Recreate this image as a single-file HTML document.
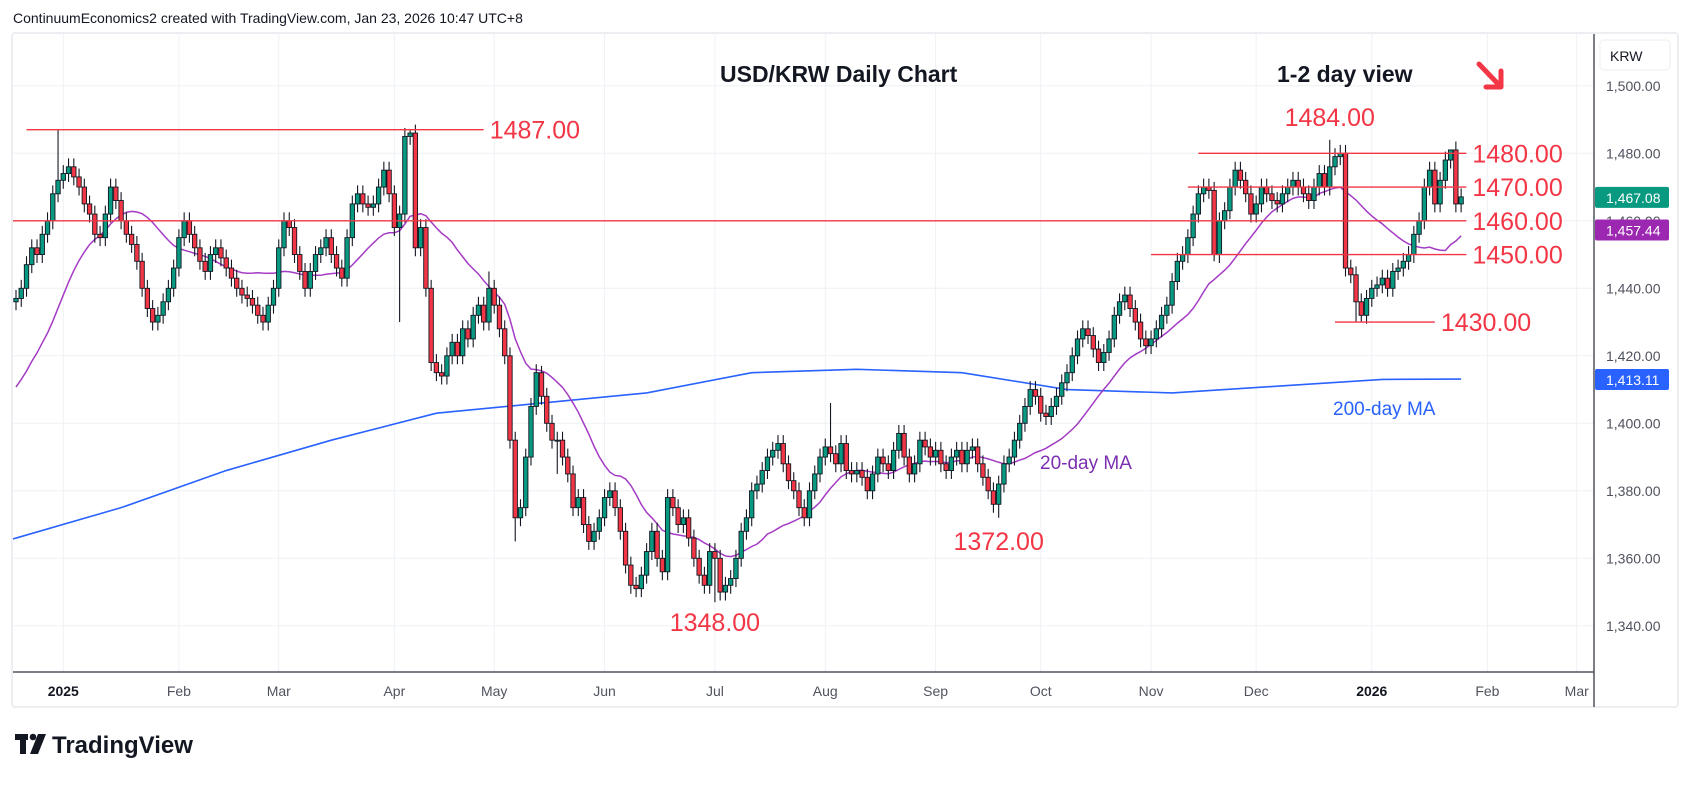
<!DOCTYPE html>
<html><head><meta charset="utf-8">
<style>
html,body{margin:0;padding:0;background:#fff;}
body{width:1689px;height:782px;overflow:hidden;font-family:"Liberation Sans",sans-serif;}
svg text{font-family:"Liberation Sans","DejaVu Sans",sans-serif;}
</style></head>
<body>
<svg id="chart" width="1689" height="782" viewBox="0 0 1689 782" xmlns="http://www.w3.org/2000/svg">
  <rect x="0" y="0" width="1689" height="782" fill="#ffffff"/>
  <text x="13" y="23" font-size="14" fill="#131722">ContinuumEconomics2 created with TradingView.com, Jan 23, 2026 10:47 UTC+8</text>
  <rect x="12" y="33" width="1666" height="674" fill="none" stroke="#eceef2" stroke-width="2" rx="3"/>
  <g id="grid"></g>
  <g id="ma200"></g>
  <g id="ma20"></g>
  <g id="candles"></g>
  <g id="levels"></g>
  <line x1="1594" y1="34" x2="1594" y2="707" stroke="#50535e" stroke-width="1.5"/>
  <line x1="13" y1="672" x2="1594" y2="672" stroke="#50535e" stroke-width="1.5"/>
  <g id="yaxis"></g>
  <g id="xaxis"></g>
  <rect x="1600" y="40" width="70" height="30" rx="4" fill="#fff" stroke="#eceef2"/>
  <text x="1610" y="61" font-size="14" fill="#131722">KRW</text>
  <text x="720" y="82" font-size="23" font-weight="bold" fill="#131722">USD/KRW Daily Chart</text>
  <text x="1277" y="82" font-size="23" font-weight="bold" fill="#131722">1-2 day view</text>
  <g stroke="#f23645" stroke-width="5" fill="none" stroke-linecap="round" stroke-linejoin="round">
    <line x1="1479" y1="64" x2="1500" y2="86"/>
    <polyline points="1486,87 1501,87 1501,71"/>
  </g>
  <text x="1333" y="415" font-size="19" fill="#2962ff">200-day MA</text>
  <text x="1040" y="469" font-size="19" fill="#7b2fb0">20-day MA</text>
  <g>
    <rect x="15" y="734" width="13" height="6" fill="#131722"/>
    <rect x="20" y="734" width="6" height="20" fill="#131722"/>
    <circle cx="33" cy="737" r="3.3" fill="#131722"/>
    <polygon points="38,734 46,734 38,754 30,754" fill="#131722"/>
    <text x="52" y="753" font-size="24" font-weight="bold" fill="#131722">TradingView</text>
  </g>
</svg>
<script>
// ---------- data ----------
const priorCloses = [1395,1398,1394,1400,1396,1402,1398,1394,1397,1400,1404,1410,1415,1418,1425,1432,1430,1434,1436];
const closes = [
1437,1440,1447,1452,1450,1456,1460,1468,1472,1474,
1476,1473,1470,1465,1462,1456,1455,1462,1470,1466,
1460,1456,1453,1448,1440,1434,1430,1432,1436,1440,
1446,1455,1460,1456,1452,1448,1445,1450,1452,1449,
1446,1443,1440,1438,1437,1435,1432,1430,1435,1440,
1452,1460,1458,1450,1445,1440,1445,1450,1452,1455,
1450,1446,1443,1455,1465,1468,1465,1464,1465,1470,
1475,1468,1458,1462,1485,1486,1452,1458,1440,1418,
1415,1414,1420,1424,1420,1428,1425,1432,1435,1430,
1440,1435,1428,1420,1395,1372,1375,1390,1405,1415,
1408,1400,1395,1395,1390,1385,1375,1378,1370,1365,
1368,1372,1378,1380,1375,1368,1358,1352,1351,1355,
1362,1368,1360,1356,1378,1375,1370,1372,1366,1360,
1355,1352,1362,1360,1350,1352,1354,1360,1368,1372,
1380,1382,1386,1390,1392,1394,1388,1383,1380,1375,
1372,1380,1385,1390,1393,1391,1388,1394,1386,1385,
1386,1384,1380,1385,1390,1388,1386,1392,1397,1390,
1385,1388,1395,1393,1390,1392,1388,1386,1390,1392,
1388,1392,1393,1388,1384,1380,1376,1382,1388,1390,
1395,1400,1405,1410,1408,1403,1402,1405,1408,1412,
1415,1420,1425,1428,1426,1422,1418,1421,1425,1432,
1436,1438,1434,1430,1425,1423,1425,1428,1432,1435,
1442,1448,1450,1455,1462,1468,1470,1469,1450,1460,
1463,1470,1475,1472,1468,1462,1465,1470,1468,1466,
1465,1468,1470,1472,1470,1468,1466,1470,1474,1470,
1476,1479,1480,1446,1444,1436,1432,1437,1440,1441,
1443,1440,1445,1446,1448,1450,1456,1460,1470,1475,
1465,1472,1478,1481,1465,1467.08];
const highIdx = [8,75,155,250,273,90,100];
const highVal = [1487,1487,1406,1484,1481,1445,1417];
const lowIdx = [73,95,133,187,228,255,256,103];
const lowVal = [1430,1365,1347,1372,1448,1430,1430,1385];
const ma200Idx = [0,20,40,60,80,100,120,140,160,180,200,220,240,260,275];
const ma200Val = [1366,1375,1386,1395,1403,1406,1409,1415,1416,1415,1410,1409,1411,1413,1413.11];
const yTicks = [1340,1360,1380,1400,1420,1440,1460,1480,1500];
const monthLabels = ["2025","Feb","Mar","Apr","May","Jun","Jul","Aug","Sep","Oct","Nov","Dec","2026","Feb","Mar"];
const monthBar = [9,31,50,72,91,112,133,154,175,195,216,236,258,280,297];
const levelPrices = [1487,1480,1470,1460,1450,1430];
const levelLabels = ["1487.00","1480.00","1470.00","1460.00","1450.00","1430.00"];
const levelStartBar = [2,225,223,-1,216,251];
const levelEndBar = [89,276,276,276,276,270];
const noteLabels = ["1484.00","1348.00","1372.00"];
const notePrices = [1484,1348,1372];
const noteBars = [250,133,187];

// ---------- scales ----------
function xS(i){ return 16 + i*5.255; }
function yS(p){ return 153.3 + (1480 - p)*3.375; }
const NS="http://www.w3.org/2000/svg";
function mk(tag, attrs, parent){ const e=document.createElementNS(NS,tag); for(const k in attrs) e.setAttribute(k,attrs[k]); parent.appendChild(e); return e; }

// grid
const grid=document.getElementById('grid');
yTicks.forEach(p=>{
  const l=mk('line',{x1:13,x2:1594,y1:yS(p),y2:yS(p),stroke:'#eef1f5','stroke-width':1},grid);
  
  
});
monthBar.forEach(b=>{
  const l=mk('line',{x1:xS(b),x2:xS(b),y1:34,y2:672,stroke:'#eef1f5','stroke-width':1},grid);
  
  
});

// y axis
const ya=document.getElementById('yaxis');
yTicks.forEach(p=>{
  if(p===1460) return;
  const t=mk('text',{x:1606,y:yS(p)+5,'font-size':14,fill:'#50535e'},ya);
  t.textContent=p.toLocaleString('en-US',{minimumFractionDigits:2});
  
  
});
// x axis
const xa=document.getElementById('xaxis');
monthLabels.forEach((m,k)=>{
  const t=mk('text',{x:xS(monthBar[k]),y:696,'font-size':14,'text-anchor':'middle',fill:(m==='2025'||m==='2026')?'#131722':'#50535e','font-weight':(m==='2025'||m==='2026')?'bold':'normal'},xa);
  t.textContent=m;
  
  
});

// MA200
const m2=document.getElementById('ma200');
const p200=ma200Idx.map((b,k)=>xS(b)+','+yS(ma200Val[k])).join(' ');
const pl200=mk('polyline',{points:p200,fill:'none',stroke:'#2962ff','stroke-width':1.6},m2);


mk('line',{x1:13,y1:yS(ma200Val[0])+1,x2:xS(0),y2:yS(ma200Val[0]),stroke:'#2962ff','stroke-width':1.6},m2);

// MA20
const all=priorCloses.concat(closes);
const pts=[];
for(let i=0;i<closes.length;i++){
  let s=0; for(let j=0;j<20;j++) s+=all[i+priorCloses.length-j];
  pts.push(xS(i)+','+yS(s/20));
}
const pl20=mk('polyline',{points:pts.join(' '),fill:'none',stroke:'#a43bc4','stroke-width':1.5},document.getElementById('ma20'));



// candles
const cg=document.getElementById('candles');
for(let i=0;i<closes.length;i++){
  const c=closes[i], o=(i===0?priorCloses[priorCloses.length-1]:closes[i-1]);
  let hi=Math.max(o,c)+2.5, lo=Math.min(o,c)-2.5;
  const hk=highIdx.indexOf(i); if(hk>=0) hi=highVal[hk];
  const lk=lowIdx.indexOf(i); if(lk>=0) lo=lowVal[lk];
  const x=xS(i);
  const g=mk('g',{},cg);
  
  
  mk('line',{x1:x,x2:x,y1:yS(hi),y2:yS(lo),stroke:'#131722','stroke-width':1.1},g);
  const top=yS(Math.max(o,c)), bot=yS(Math.min(o,c));
  mk('rect',{x:x-2.2,y:top,width:4.4,height:Math.max(1,bot-top),fill:c>=o?'#089981':'#f23645',stroke:'#131722','stroke-width':0.9},g);
}

// levels
const lv=document.getElementById('levels');
levelPrices.forEach((p,k)=>{
  const x1 = levelStartBar[k]<0 ? 13 : xS(levelStartBar[k]);
  const x2 = xS(levelEndBar[k]);
  const l=mk('line',{x1:x1,x2:x2,y1:yS(p),y2:yS(p),stroke:'#f23645','stroke-width':1.3},lv);
  
  
  const t=mk('text',{x:x2+6,y:yS(p)+9,'font-size':25,fill:'#f23645'},lv);
  t.textContent=levelLabels[k];
  
  
});
noteLabels.forEach((s,k)=>{
  const hiNote = notePrices[k] > 1450;
  const t=mk('text',{x:xS(noteBars[k]),y: hiNote ? yS(notePrices[k])-14 : yS(notePrices[k])+32,'font-size':25,'text-anchor':'middle',fill:'#f23645'},lv);
  t.textContent=s;
  
  
});

// price tags
function tag(p,label,color,name){
  const y=yS(p);
  const r=mk('rect',{x:1595,y:y-10,width:74,height:21,rx:2,fill:color},ya);
  
  
  const t=mk('text',{x:1606,y:y+6,'font-size':14,fill:'#fff'},ya);
  t.textContent=label;
  
  
}
const hid=mk('text',{x:1606,y:yS(1460)+5,'font-size':14,fill:'#50535e'},ya);
hid.textContent='1,460.00';


tag(closes[closes.length-1],'1,467.08','#089981','last-price-tag');
tag(1457.44,'1,457.44','#9c27b0','ma20-price-tag');
tag(ma200Val[ma200Val.length-1],'1,413.11','#2962ff','ma200-price-tag');
</script>
</body></html>
